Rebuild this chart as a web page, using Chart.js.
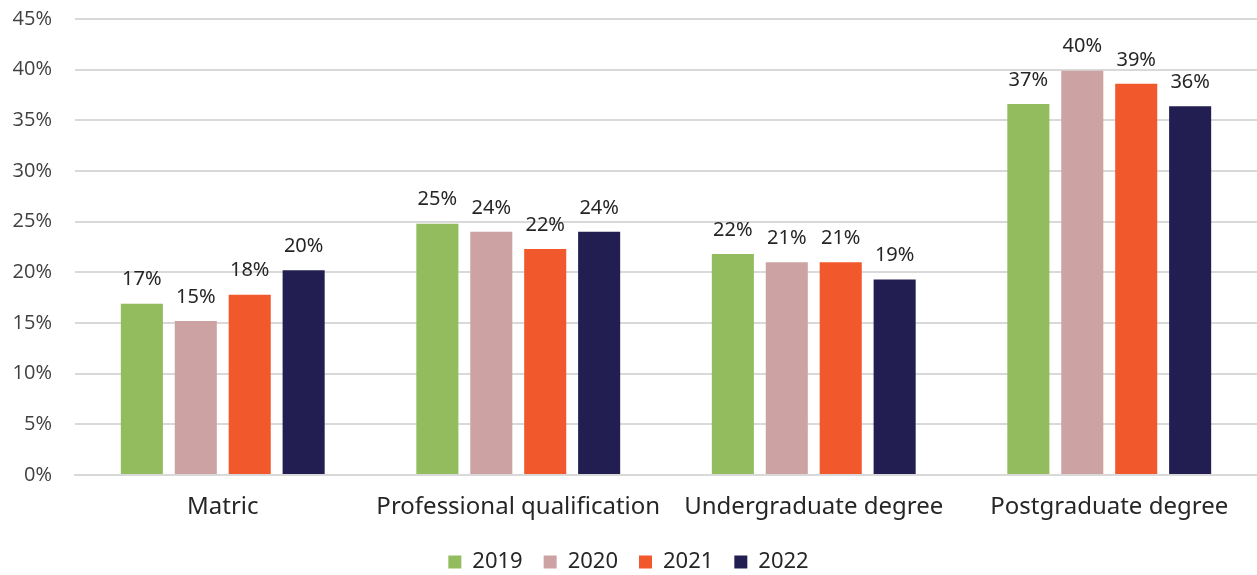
<!DOCTYPE html>
<html>
<head>
<meta charset="utf-8">
<script src="https://cdn.jsdelivr.net/npm/chart.js@4"></script>
<style>
  html, body { margin: 0; padding: 0; background: #fff; }
  #wrap { width: 1257px; height: 575px; }
</style>
</head>
<body>
<div id="wrap"><canvas id="chart"></canvas></div>
<script>
var categories = ['Matric', 'Professional qualification', 'Undergraduate degree', 'Postgraduate degree'];
var years = ['2019', '2020', '2021', '2022'];
var values2019 = [16.9, 24.8, 21.8, 36.6];
var values2020 = [15.2, 24.0, 21.0, 39.9];
var values2021 = [17.8, 22.3, 21.0, 38.6];
var values2022 = [20.2, 24.0, 19.3, 36.4];
var colors = ['#92BC5D', '#CCA3A2', '#F1582B', '#221E51'];
var yTicks = [0, 5, 10, 15, 20, 25, 30, 35, 40, 45];

var labelFont = "'Noto Sans', 'Open Sans', sans-serif";

// valeurs au-dessus des barres
var barLabels = {
    id: 'barLabels',
    afterDatasetsDraw: function(chart) {
        var ctx = chart.ctx;
        ctx.save();
        ctx.font = '20px ' + labelFont;
        ctx.fillStyle = '#262626';
        ctx.textAlign = 'center';
        ctx.textBaseline = 'bottom';
        chart.data.datasets.forEach(function(ds, i) {
            chart.getDatasetMeta(i).data.forEach(function(bar, j) {
                ctx.fillText(Math.round(ds.data[j]) + '%', bar.x, bar.y - 14);
            });
        });
        ctx.restore();
    }
};

var allValues = [values2019, values2020, values2021, values2022];

new Chart(document.getElementById('chart'), {
    type: 'bar',
    data: {
        labels: categories,
        datasets: years.map(function(y, i) {
            return {
                label: y,
                data: allValues[i],
                backgroundColor: colors[i],
                categoryPercentage: 0.73,
                barPercentage: 0.78
            };
        })
    },
    options: {
        responsive: true,
        maintainAspectRatio: false,
        animation: false,
        layout: { padding: { top: 19, right: 0, left: 0, bottom: -8 } },
        plugins: {
            legend: {
                position: 'bottom',
                labels: {
                    boxWidth: 13,
                    boxHeight: 13,
                    padding: 21,
                    color: '#262626',
                    font: { size: 22, family: labelFont }
                }
            },
            tooltip: { enabled: false }
        },
        scales: {
            x: {
                afterFit: function(scale) { scale.height = 55; },
                grid: { display: false },
                border: { color: '#D9D9D9', width: 2 },
                ticks: {
                    color: '#262626',
                    padding: 10,
                    font: { size: 24, family: labelFont }
                }
            },
            y: {
                min: 0,
                max: 45,
                afterFit: function(scale) { scale.width = 75; },
                afterBuildTicks: function(scale) {
                    scale.ticks = yTicks.map(function(v) { return { value: v }; });
                },
                grid: { color: '#D9D9D9', lineWidth: 2, drawTicks: true, tickLength: 23, tickColor: 'rgba(0,0,0,0)' },
                border: { display: false },
                ticks: {
                    color: '#404040',
                    padding: 0,
                    font: { size: 20, family: "'Open Sans', sans-serif" },
                    callback: function(v) { return v + '%'; }
                }
            }
        }
    },
    plugins: [barLabels]
});
</script>
</body>
</html>
